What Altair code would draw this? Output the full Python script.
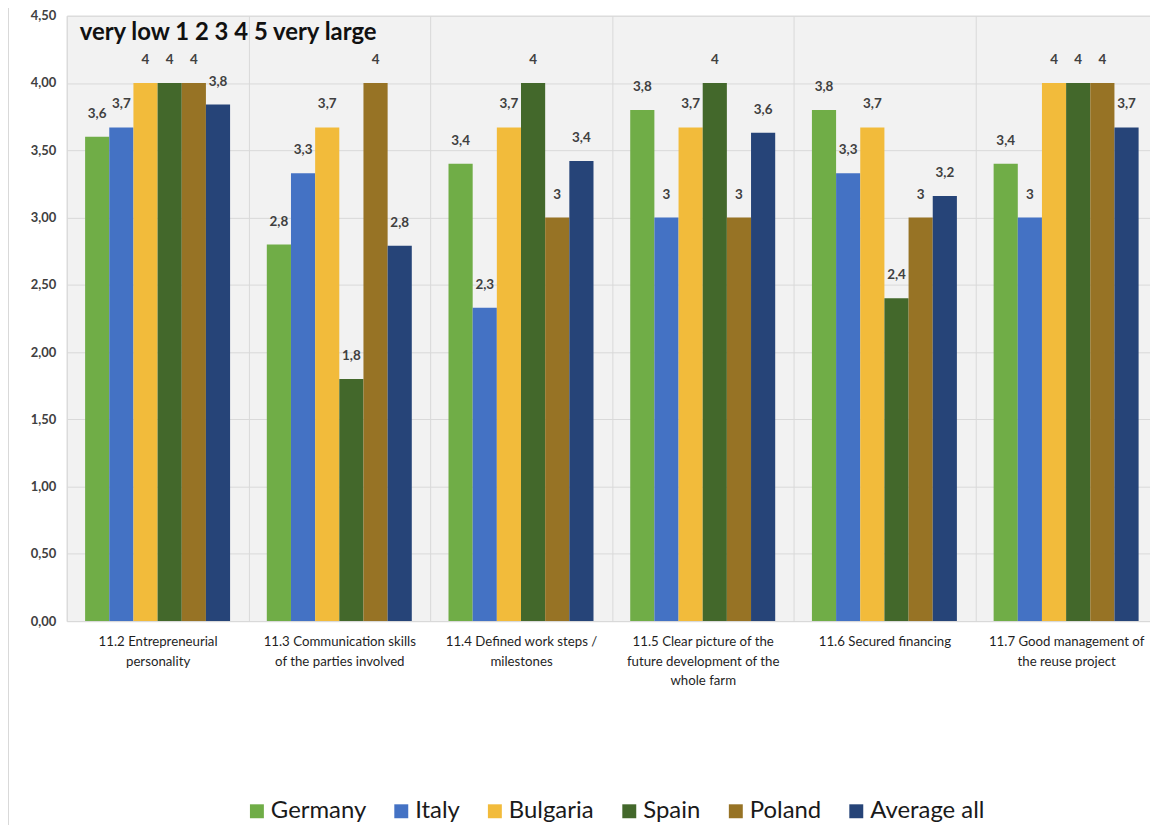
import altair as alt
import pandas as pd

categories = [
    "11.2 Entrepreneurial|personality",
    "11.3 Communication skills|of the parties involved",
    "11.4 Defined work steps /|milestones",
    "11.5 Clear picture of the|future development of the|whole farm",
    "11.6 Secured financing",
    "11.7 Good management of|the reuse project",
]
series = ["Germany", "Italy", "Bulgaria", "Spain", "Poland", "Average all"]
colors = ["#70ad47", "#4472c4", "#f2bb3b", "#43682b", "#977325", "#264478"]

germany = [3.6, 2.8, 3.4, 3.8, 3.8, 3.4]
italy = [3.67, 3.33, 2.33, 3.0, 3.33, 3.0]
bulgaria = [4.0, 3.67, 3.67, 3.67, 3.67, 4.0]
spain = [4.0, 1.8, 4.0, 4.0, 2.4, 4.0]
poland = [4.0, 4.0, 3.0, 3.0, 3.0, 4.0]
average_all = [3.84, 2.79, 3.42, 3.63, 3.16, 3.67]

title_text = "very low 1 2 3 4 5 very large"


def fmt(v):
    r = round(v, 1)
    if abs(r - round(r)) < 1e-9:
        return str(int(round(r)))
    return f"{r:.1f}".replace(".", ",")


rows = []
for name, vals in zip(series, [germany, italy, bulgaria, spain, poland, average_all]):
    for cat, v in zip(categories, vals):
        rows.append({"category": cat, "series": name, "value": v, "label": fmt(v)})
df = pd.DataFrame(rows)

FONT = "Lato"

base = alt.Chart(df).encode(
    x=alt.X(
        "category:N",
        sort=categories,
        scale=alt.Scale(paddingInner=0, paddingOuter=0, range=[0, 1095]),
        axis=alt.Axis(
            title=None,
            labelAngle=0,
            tickBand="extent",
            grid=True,
            gridColor="#d9d9d9",
            gridWidth=1,
            ticks=False,
            domain=False,
            labelExpr="split(datum.label, '|')",
            labelFont=FONT,
            labelFontSize=13.3,
            labelColor="#1f1f1f",
            labelLineHeight=19.5,
            labelPadding=14,
            labelBaseline="top",
            labelLimit=0,
        ),
    ),
    xOffset=alt.XOffset(
        "series:N", sort=series, scale=alt.Scale(paddingInner=0, paddingOuter=0.76)
    ),
)

bars = base.mark_bar().encode(
    y=alt.Y(
        "value:Q",
        scale=alt.Scale(domain=[0, 4.5], nice=False),
        axis=alt.Axis(
            title=None,
            values=[0, 0.5, 1, 1.5, 2, 2.5, 3, 3.5, 4, 4.5],
            labelExpr="replace(format(datum.value, '.2f'), '.', ',')",
            grid=True,
            gridColor="#d9d9d9",
            gridWidth=1,
            ticks=False,
            domain=False,
            labelFont=FONT,
            labelFontSize=13,
            labelFontWeight="bold",
            labelColor="#404040",
            labelPadding=11,
        ),
    ),
    color=alt.Color(
        "series:N",
        sort=series,
        scale=alt.Scale(domain=series, range=colors),
        legend=alt.Legend(
            title=None,
            orient="none",
            legendX=179,
            legendY=787,
            direction="horizontal",
            symbolType="square",
            symbolSize=196,
            symbolStrokeWidth=0,
            symbolOpacity=1,
            labelFont=FONT,
            labelFontSize=24,
            labelColor="#1a1a1a",
            labelOffset=2,
            columnPadding=23,
            padding=0,
            labelLimit=0,
        ),
    ),
)

labels = base.mark_text(
    font=FONT, fontSize=13.5, fontWeight="bold", color="#404040", baseline="middle", dy=-23
).encode(y=alt.Y("value:Q"), text="label:N")

title_layer = alt.Chart(pd.DataFrame({"t": [title_text]})).mark_text(
    font=FONT, fontSize=24, fontWeight="bold", color="#111111", align="left", baseline="middle"
).encode(x=alt.value(13), y=alt.value(17), text="t:N")

frame_line = alt.Chart(pd.DataFrame({"t": [0]})).mark_rule(color="#d9d9d9", strokeWidth=2).encode(
    x=alt.value(-59), y=alt.value(-14), y2=alt.value(820)
)

chart = (
    alt.layer(bars, labels, title_layer, frame_line)
    .properties(
        width=1088,
        height=608,
        autosize=alt.AutoSizeParams(type="none"),
        padding={"left": 59, "top": 6, "right": 0, "bottom": 203},
        background="white",
    )
    .configure_view(fill="#f2f2f2", stroke="#d9d9d9", strokeWidth=1)
)

chart.save("out.html", embed_options={"renderer": "svg", "actions": False})
